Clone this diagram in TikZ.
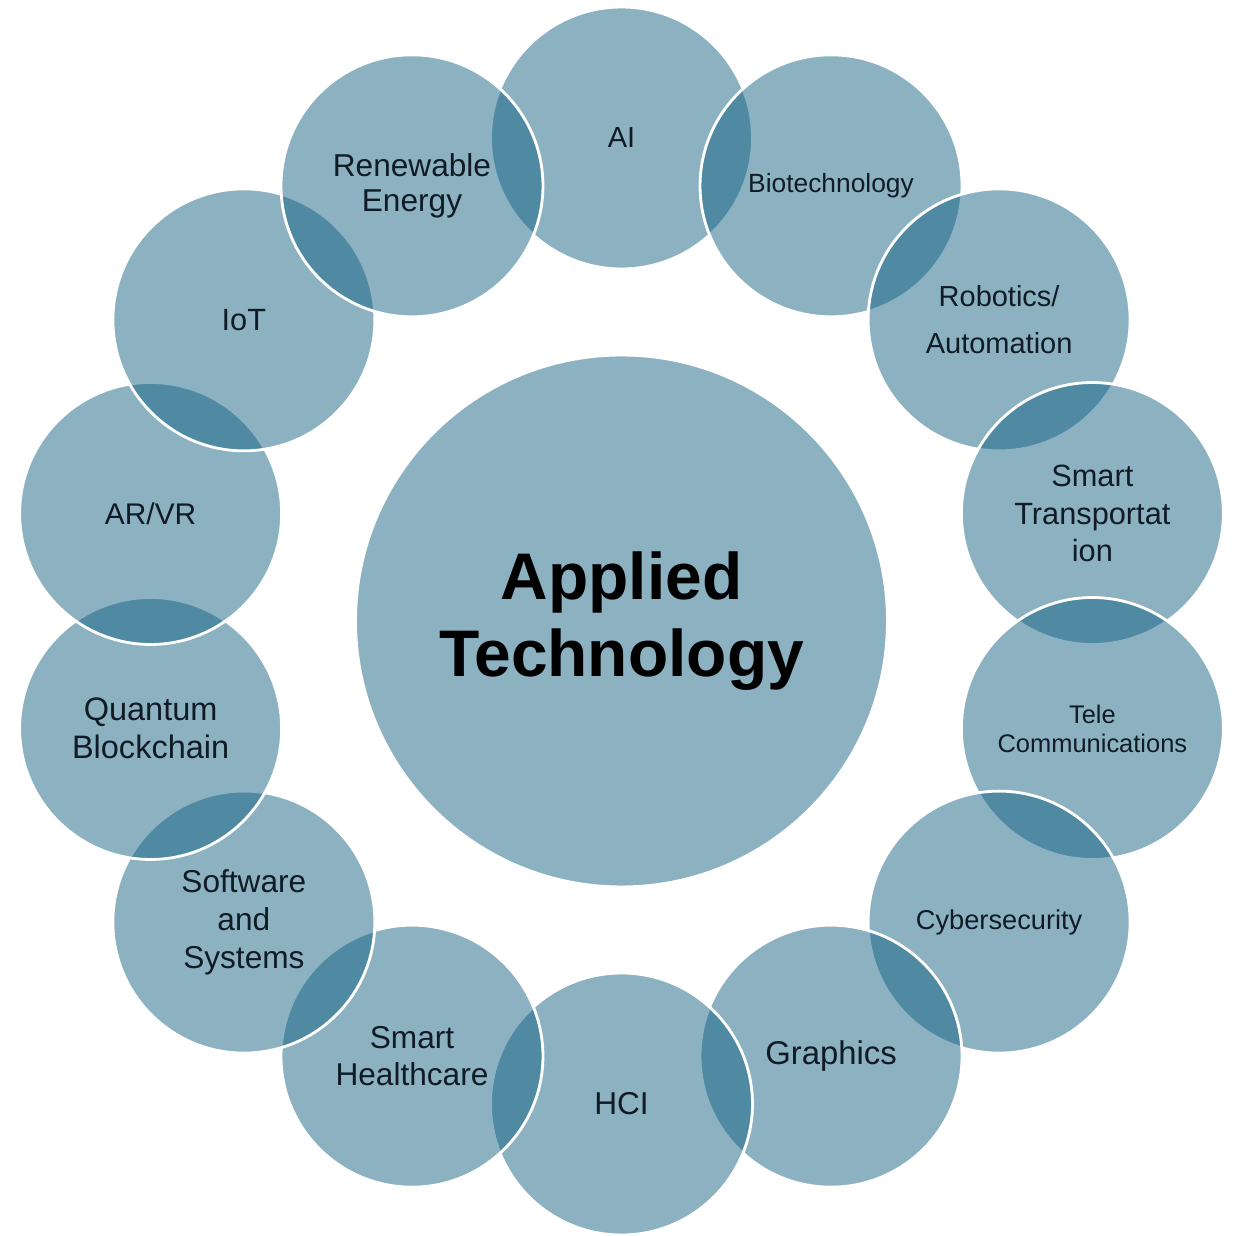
\documentclass[tikz,border=0pt]{standalone}
\usepackage{fontspec}
\setmainfont{Liberation Sans}
\definecolor{ringblue}{HTML}{0E5E80}
\definecolor{labelink}{HTML}{101B26}

\begin{document}
\begin{tikzpicture}[x=0.02cm,y=0.02cm,
    topic/.style={circle,draw=white,line width=1.6pt,fill=ringblue,
      fill opacity=0.48,text opacity=1,text=labelink,minimum size=5.24cm,
      inner sep=0pt,align=center},
    fs/.style 2 args={font=\fontsize{#1}{#2}\selectfont}]
  \useasboundingbox (-621.5,-615) rectangle (631.5,621);
  \node[topic,minimum size=10.64cm,text=black,
        font=\bfseries\fontsize{37.5}{43.6}\selectfont] (core) at (0,0)
       {Applied\\Technology};
  % ring, clockwise from the top
  \node[topic,fs={16.5}{20}] (ai)    at (90:483)      {AI};
  \node[topic,fs={15}{18}]   (bio)   at (64.29:483)   {Biotechnology};
  \node[topic,fs={16.5}{27}] (robo)  at (38.57:483)   {Robotics/\\Automation};
  \node[topic,fs={17.5}{21.5}] (trans) at (12.86:483) {Smart\\Transportat\\ion};
  \node[topic,fs={14.5}{16.5}] (tele) at (-12.86:483) {Tele\\Communications};
  \node[topic,fs={15.5}{18}] (cyber) at (-38.57:483)  {Cybersecurity};
  \node[topic,fs={18.7}{22}] (gfx)   at (-64.29:483)  {Graphics};
  \node[topic,fs={18}{22}]   (hci)   at (-90:483)     {HCI};
  \node[topic,fs={18}{21.5}] (care)  at (-115.71:483) {Smart\\Healthcare};
  \node[topic,fs={18}{21.5}] (soft)  at (-141.43:483) {Software\\and\\Systems};
  \node[topic,fs={18.5}{21.5}] (quant) at (-167.14:483) {Quantum\\Blockchain};
  \node[topic,fs={17}{21}]   (arvr)  at (167.14:483)  {AR/VR};
  \node[topic,fs={17.5}{21}] (iot)   at (141.43:483)  {IoT};
  \node[topic,fs={18}{20.4}] (renew) at (115.71:483)  {Renewable\\Energy};
\end{tikzpicture}
\end{document}
